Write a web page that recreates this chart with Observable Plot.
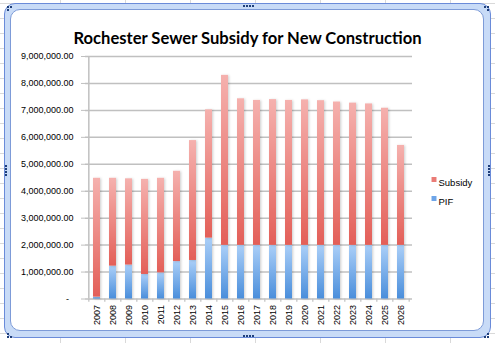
<!DOCTYPE html>
<html>
<head>
<meta charset="utf-8">
<script src="https://cdn.jsdelivr.net/npm/d3@7"></script>
<script src="https://cdn.jsdelivr.net/npm/@observablehq/plot@0.6"></script>
<style>
  html, body { margin: 0; padding: 0; background: #fff; }
  #wrap { position: relative; width: 495px; height: 343px; overflow: hidden;
    background-color: #fff;
    background-image:
      repeating-linear-gradient(to right, transparent 0 60px, #d9d9d9 60px 61px, transparent 61px 65px),
      repeating-linear-gradient(to bottom, transparent 0 3px, #d9d9d9 3px 4px, transparent 4px 15px);
  }
  #outer { position: absolute; left: 4px; top: 3px; width: 485px; height: 333px;
    border: 1px solid #6a8bd9; border-radius: 11px; background: #c8dbf7; }
  #inner { position: absolute; left: 10px; top: 9px; width: 472px; height: 320px;
    border: 1px solid #7d9bd8; border-radius: 10px; background: #fff; }
  .grip { position: absolute; width: 2px; height: 2px; background: #1f3f7a; }
  #plot { position: absolute; left: 0; top: 0; }
</style>
</head>
<body>
<div id="wrap">
  <div id="outer"></div>
  <div id="inner"></div>
  <div id="plot"></div>
</div>
<script>
const years = ["2007","2008","2009","2010","2011","2012","2013","2014","2015","2016",
               "2017","2018","2019","2020","2021","2022","2023","2024","2025","2026"];
const pif = [70000, 1220000, 1260000, 910000, 970000, 1390000, 1430000, 2260000, 1990000, 1990000,
             1990000, 1990000, 1990000, 1990000, 1990000, 1990000, 1990000, 1990000, 1990000, 1990000];
const subsidy = [4410000, 3260000, 3200000, 3530000, 3510000, 3350000, 4450000, 4760000, 6310000, 5440000,
                 5380000, 5410000, 5380000, 5400000, 5370000, 5320000, 5280000, 5250000, 5090000, 3710000];
const yTicks = [0, 1000000, 2000000, 3000000, 4000000, 5000000, 6000000, 7000000, 8000000, 9000000];
const seriesNames = ["Subsidy", "PIF"];
const title = "Rochester Sewer Subsidy for New Construction";

const rows = years.map((year, i) => ({year, pif: pif[i], total: pif[i] + subsidy[i]}));

// grips (decorative handles)
const wrap = document.getElementById("wrap");
function grip(x, y) { const d = document.createElement("div"); d.className = "grip"; d.style.left = x + "px"; d.style.top = y + "px"; wrap.appendChild(d); }
[[7,6],[10,6],[7,9],[484,6],[487,6],[487,9],[7,333],[7,336],[10,336],[484,336],[487,336],[487,333]].forEach(p => grip(...p));
[243,246,249,252].forEach(x => { grip(x, 5); grip(x, 335); });
[165,168,171,174].forEach(y => { grip(5, y); grip(488, y); });

// title font size to match width
const cv = document.createElement("canvas").getContext("2d");
cv.font = "bold 18px Lato";
const titleSize = 18 * 350 / cv.measureText(title).width;

const step = 327 / 20;
const tickFont = "'Liberation Sans', Arial, sans-serif";

const chart = Plot.plot({
  width: 495,
  height: 343,
  marginLeft: 85,
  marginRight: 83,
  marginTop: 56,
  marginBottom: 44.5,
  style: { background: "transparent", fontFamily: tickFont, fontSize: "9px", color: "#000" },
  x: { type: "band", domain: years, paddingInner: 0.57, paddingOuter: 0.285, label: null },
  y: { domain: [0, 9000000], label: null },
  marks: [
    Plot.ruleY(yTicks, { stroke: "#c0c0c0", strokeWidth: 1.5 }),
    Plot.ruleX([years[0]], { dx: -step / 2, y1: 0, y2: 9000000, stroke: "#c0c0c0", strokeWidth: 1.5 }),
    Plot.ruleX(years, { dx: -step / 2, y1: 0, y2: -120000, stroke: "#c0c0c0", strokeWidth: 1.2 }),
    Plot.ruleX([years[years.length - 1]], { dx: step / 2, y1: 0, y2: -120000, stroke: "#c0c0c0", strokeWidth: 1.2 }),
    Plot.barY(rows, { x: "year", y1: 0, y2: "pif", fill: "url(#gBlue)", filter: null }),
    Plot.barY(rows, { x: "year", y1: "pif", y2: "total", fill: "url(#gRed)" }),
    Plot.axisY({ ticks: yTicks, tickSize: 4, tickPadding: 8, stroke: "#c0c0c0", fill: "#000",
      tickFormat: d => d === 0 ? "-\u2002" : d3.format(",.2f")(d) }),
    Plot.axisX({ tickRotate: -90, tickSize: 0, tickPadding: 6, fill: "#000", label: null }),
    Plot.text([title], { frameAnchor: "top", dx: -1.5, dy: -24, fontSize: titleSize, fontWeight: "bold",
      fontFamily: "Lato, 'Open Sans', sans-serif", fill: "#000" }),
    Plot.dot([seriesNames[0]], { frameAnchor: "top-right", dx: 21.5, dy: 123, symbol: "square", r: 2.8, fill: "#ea7b76" }),
    Plot.dot([seriesNames[1]], { frameAnchor: "top-right", dx: 21.5, dy: 142, symbol: "square", r: 2.8, fill: "#6ea5e8" }),
    Plot.text([seriesNames[0]], { frameAnchor: "top-right", dx: 26, dy: 123, textAnchor: "start", fontSize: 9.5, fill: "#000" }),
    Plot.text([seriesNames[1]], { frameAnchor: "top-right", dx: 26, dy: 142, textAnchor: "start", fontSize: 9.5, fill: "#000" })
  ]
});

const svg = d3.select(chart);
const defs = svg.insert("defs", ":first-child");
function grad(id, c0, c1) {
  const g = defs.append("linearGradient").attr("id", id).attr("x1", 0).attr("y1", 0).attr("x2", 0).attr("y2", 1);
  g.append("stop").attr("offset", "0%").attr("stop-color", c0);
  g.append("stop").attr("offset", "100%").attr("stop-color", c1);
}
grad("gRed", "#f5b1ae", "#e35f58");
grad("gBlue", "#abcff8", "#4a8edb");
const f = defs.append("filter").attr("id", "shadow").attr("x", "-50%").attr("y", "-5%").attr("width", "200%").attr("height", "110%");
f.append("feDropShadow").attr("dx", 1.2).attr("dy", 0.5).attr("stdDeviation", 0.8).attr("flood-color", "#000").attr("flood-opacity", 0.18);
svg.selectAll("g[aria-label='bar']").attr("filter", "url(#shadow)");

document.getElementById("plot").appendChild(chart);
</script>
</body>
</html>
